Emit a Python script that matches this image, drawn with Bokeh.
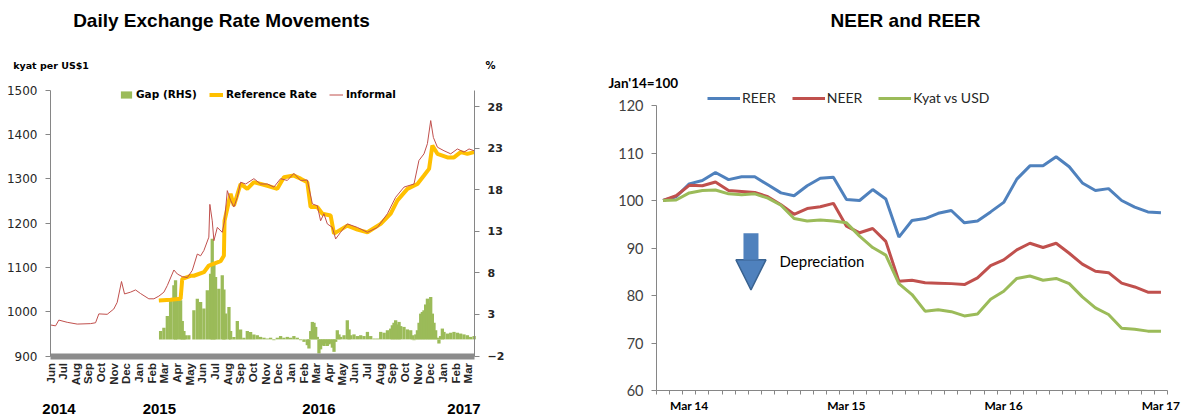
import math
import pandas as pd
from bokeh.plotting import figure
from bokeh.models import (Range1d, LinearAxis, FixedTicker, Legend, LegendItem,
                          Label, Arrow, NormalHead)
from bokeh.layouts import row
from bokeh.embed import file_html
from bokeh.resources import INLINE

# ---------------- Left chart data (x = months since Jun 2014) ----------------
month_labels = ["Jun", "Jul", "Aug", "Sep", "Oct", "Nov", "Dec", "Jan", "Feb", "Mar", "Apr", "May",
                "Jun", "Jul", "Aug", "Sep", "Oct", "Nov", "Dec", "Jan", "Feb", "Mar", "Apr", "May",
                "Jun", "Jul", "Aug", "Sep", "Oct", "Nov", "Dec", "Jan", "Feb", "Mar"]
year_labels = ["2014", "2015", "2016", "2017"]
year_pos = [0.67, 8.6, 21.2, 32.67]

informal_t = [0.0, 0.4, 0.66, 1.32, 2.11, 3.16, 3.56, 3.82, 4.48, 5.0, 5.27, 5.61, 5.85, 6.32, 6.72,
              7.11, 7.77, 8.17, 8.56, 8.96, 9.23, 9.75, 10.02, 10.41, 10.81, 11.2, 11.6, 11.86, 12.12,
              12.51, 12.59, 12.78, 12.91, 13.18, 13.57, 13.75, 13.97, 14.23, 14.49, 14.76, 15.02,
              15.42, 16.07, 16.6, 17.13, 17.65, 18.18, 18.71, 19.23, 19.76, 20.29, 20.69, 21.08,
              21.34, 21.6, 21.87, 22.27, 22.53, 22.92, 23.45, 24.25, 25.04, 25.83, 26.62, 27.27,
              27.93, 28.72, 29.11, 29.51, 29.78, 30.04, 30.25, 30.57, 31.09, 31.62, 32.15, 32.67,
              33.07, 33.47]
informal_v = [970, 968, 981, 976, 972, 973, 975, 995, 994, 1006, 1021, 1068, 1040, 1044, 1049,
              1041, 1029, 1029, 1035, 1044, 1059, 1094, 1085, 1079, 1077, 1093, 1130, 1126, 1138,
              1168, 1242, 1205, 1160, 1190, 1179, 1205, 1273, 1251, 1236, 1258, 1292,
              1288, 1300, 1288, 1288, 1281, 1300, 1296, 1312, 1296, 1297, 1243, 1239,
              1205, 1221, 1198, 1190, 1164, 1179, 1198, 1190, 1179, 1190, 1221, 1258,
              1281, 1288, 1341, 1356, 1379, 1431, 1393, 1371, 1363, 1356, 1367, 1360,
              1367, 1363]

ref_t = [8.56, 9.49, 10.28, 10.41, 11.07, 11.33, 12.12, 12.51, 13.44, 13.7, 13.75, 14.23, 14.49,
         15.02, 15.55, 16.07, 17.13, 17.92, 18.44, 19.23, 19.76, 20.29, 20.55, 21.08, 21.48,
         22.13, 22.4, 23.45, 24.25, 25.04, 26.09, 26.88, 27.41, 28.2, 28.99, 29.51, 29.91,
         30.17, 30.57, 31.36, 31.88, 32.41, 32.94, 33.47]
ref_v = [1025, 1027, 1029, 1074, 1081, 1081, 1089, 1104, 1114, 1126, 1205, 1266, 1239,
         1288, 1277, 1292, 1284, 1277, 1303, 1307, 1300, 1292, 1236, 1236, 1221,
         1217, 1176, 1194, 1185, 1179, 1198, 1221, 1251, 1277, 1288, 1307, 1322,
         1375, 1356, 1348, 1348, 1360, 1356, 1360]

gap_t = [8.7, 8.96, 9.23, 9.49, 9.75, 9.88, 10.02, 10.28, 10.41, 10.54, 10.67, 10.93, 11.33, 11.6,
         11.86, 12.12, 12.39, 12.65, 12.78, 12.91, 13.04, 13.3, 13.57, 13.7, 13.83, 14.1, 14.23,
         14.49, 14.76, 15.02, 15.28, 15.55, 15.81, 16.07, 16.34, 16.6, 16.87, 17.13, 17.39, 17.65,
         17.92, 18.18, 18.44, 18.71, 18.97, 19.23, 19.5, 19.76, 20.03, 20.29, 20.42, 20.56, 20.69,
         20.82, 20.95, 21.08, 21.21, 21.34, 21.48, 21.61, 21.74, 21.87, 22.0, 22.13, 22.27, 22.4,
         22.53, 22.66, 22.79, 22.92, 23.19, 23.45, 23.59, 23.72, 23.98, 24.25, 24.51, 24.77,
         25.04, 25.3, 25.57, 25.83, 26.09, 26.36, 26.62, 26.88, 27.01, 27.14, 27.27, 27.41, 27.54,
         27.67, 27.93, 28.2, 28.46, 28.59, 28.72, 28.86, 28.99, 29.12, 29.25, 29.38, 29.51, 29.64,
         29.78, 29.91, 30.04, 30.17, 30.3, 30.43, 30.56, 30.69, 30.82, 30.96, 31.09, 31.36, 31.62,
         31.88, 32.15, 32.41, 32.67, 32.94, 33.2, 33.47]
gap_v = [1.0, 1.4, 2.8, 4.7, 6.5, 7.1, 4.9, 4.7, 2.2, 1.0, 0.5, 0.5, 3.5, 4.9,
         4.5, 3.7, 5.9, 7.9, 12.1, 9.0, 7.5, 6.1, 7.7, 6.0, 3.1, 3.9, 1.0,
         0.3, 2.2, 1.2, 0.2, 1.0, 0.9, 0.6, 0.5, 0.3, 0.2, 0.1, 0.2, -0.1,
         0.2, 0.4, 0.2, 0.3, 0.2, 0.4, 0.2, -0.1, -0.3, -0.7, -1.1, 1.0, 2.1,
         2.0, 1.5, 0.3, -1.7, -1.2, -0.7, -0.8, -0.5, -0.8, -0.6, -0.5, -1.0, -1.5,
         -0.3, 1.1, 0.6, 0.3, 0.5, 2.3, 1.2, 0.5, 0.6, 0.4, 0.5, 0.4,
         0.9, 0.4, 0.1, 0.1, 0.9, 0.8, 1.1, 1.3, 1.7, 2.0, 2.3, 1.8, 2.1,
         1.6, 1.5, 1.2, 1.1, 0.5, -0.1, 0.6, 1.1, 2.0, 3.1, 3.3, 3.5, 4.2,
         4.9, 4.4, 5.1, 3.1, 2.0, 1.1, 0.2, -0.5, 0.4, 1.3, 0.9, 0.7, 0.8,
         0.9, 0.8, 0.7, 0.6, 0.5, 0.3, 0.4]

left_ticks = [900, 1000, 1100, 1200, 1300, 1400, 1500]
gap_ticks = [-2, 3, 8, 13, 18, 23, 28]

# ---------------- Right chart data (monthly, Jan 2014 = 100) ----------------
months = list(pd.date_range("2014-01-01", "2017-03-01", freq="MS").strftime("%b %y"))
reer = [100.0, 100.8, 103.5, 104.2, 105.9, 104.4, 105.0, 105.0, 103.3, 101.6,
        101.0, 103.1, 104.7, 104.9, 100.2, 100.0, 102.3, 100.3, 92.3, 95.8,
        96.2, 97.3, 97.9, 95.3, 95.7, 97.6, 99.6, 104.5, 107.3, 107.3,
        109.2, 107.1, 103.7, 102.1, 102.5, 100.0, 98.6, 97.6, 97.4]
neer = [100.0, 101.0, 103.2, 103.1, 103.9, 102.1, 101.9, 101.7, 100.8, 99.1,
        97.1, 98.3, 98.7, 99.4, 94.6, 93.2, 94.1, 91.4, 83.0, 83.2,
        82.7, 82.6, 82.5, 82.3, 83.7, 86.3, 87.5, 89.6, 91.0, 90.1,
        91.0, 88.9, 86.6, 85.1, 84.8, 82.6, 81.8, 80.7, 80.7]
kyat_usd = [100.0, 100.1, 101.6, 102.1, 102.2, 101.4, 101.2, 101.4, 100.5, 99.0,
            96.2, 95.7, 95.9, 95.7, 95.3, 92.5, 90.1, 88.5, 82.5, 80.2,
            76.7, 77.0, 76.6, 75.7, 76.1, 79.2, 80.9, 83.6, 84.1, 83.2,
            83.6, 82.5, 79.7, 77.4, 76.0, 73.1, 72.9, 72.5, 72.5]
right_ticks = [60, 70, 80, 90, 100, 110, 120]

AX = "#868686"
TXT = "#262626"

# ---------------- layout helpers (pixel placement of the plot areas) ----------------
def ranges(width, height, px0, px1, x0, x1, py_top, py_bot, y_top, y_bot):
    xpp = (x1 - x0) / (px1 - px0)
    ypp = (y_top - y_bot) / (py_bot - py_top)
    xr = (x0 - px0 * xpp, x1 + (width - px1) * xpp)
    yr = (y_bot - (height - py_bot) * ypp, y_top + py_top * ypp)
    return xr, yr, xpp, ypp

# ================= Left chart =================
W1, H1 = 560, 416
X1_0, X1_1 = 0, 33.5
(xr1, yr1, xpp1, ypp1) = ranges(W1, H1, 50, 474, X1_0, X1_1, 89.5, 355.5, 1500, 900)
(_, gr1, _, _) = ranges(W1, H1, 50, 474, X1_0, X1_1, 89.5, 355.5, 30, -2)

def px1(x, y):
    return xr1[0] + x * xpp1, yr1[1] - y * ypp1

p1 = figure(width=W1, height=H1, x_range=Range1d(*xr1), y_range=Range1d(*yr1),
            output_backend="svg", toolbar_location=None, min_border=0)
p1.extra_y_ranges = {"gap": Range1d(*gr1)}
p1.outline_line_color = None
p1.grid.visible = False

bars = p1.vbar(x=gap_t, top=gap_v, bottom=0, width=0.26, y_range_name="gap",
               fill_color="#9BBB59", line_color=None)
ref = p1.line(ref_t, ref_v, line_color="#FFC000", line_width=4)
inf = p1.line(informal_t, informal_v, line_color="#C0504D", line_width=1)

ya = p1.yaxis[0]
ya.fixed_location = X1_0
ya.bounds = (900, 1500)
ya.ticker = FixedTicker(ticks=left_ticks)
ya.axis_line_color = AX
ya.major_tick_line_color = AX
ya.major_tick_out = 5
ya.major_tick_in = 0
ya.minor_tick_line_color = None
ya.major_label_standoff = 8
ya.major_label_text_font = "DejaVu Sans"
ya.major_label_text_font_size = "12px"
ya.major_label_text_color = TXT

xa = p1.xaxis[0]
xa.fixed_location = 900
xa.bounds = (X1_0, X1_1)
xa.ticker = FixedTicker(ticks=list(range(len(month_labels))))
xa.major_label_overrides = {i: m for i, m in enumerate(month_labels)}
xa.major_label_orientation = math.pi / 2
xa.axis_line_color = "#8C8C8C"
xa.axis_line_width = 6
xa.major_tick_line_color = None
xa.major_tick_out = 0
xa.major_tick_in = 0
xa.minor_tick_line_color = None
xa.major_label_standoff = 7
xa.major_label_text_font = "Liberation Sans"
xa.major_label_text_font_style = "bold"
xa.major_label_text_font_size = "11.5px"
xa.major_label_text_color = TXT

ra = LinearAxis(y_range_name="gap", ticker=FixedTicker(ticks=gap_ticks))
ra.fixed_location = X1_1
ra.bounds = (-2, 30)
ra.axis_line_color = AX
ra.major_tick_line_color = AX
ra.major_tick_out = 5
ra.major_tick_in = 0
ra.minor_tick_line_color = None
ra.major_label_standoff = 8
ra.major_label_text_font = "DejaVu Sans"
ra.major_label_text_font_style = "bold"
ra.major_label_text_font_size = "11px"
ra.major_label_text_color = TXT
p1.add_layout(ra, "right")

leg1 = Legend(items=[LegendItem(label="Gap (RHS)", renderers=[bars]),
                     LegendItem(label="Reference Rate", renderers=[ref]),
                     LegendItem(label="Informal", renderers=[inf])],
              orientation="horizontal", location=(119, 316),
              background_fill_alpha=0, border_line_color=None, padding=0, margin=0,
              spacing=12, glyph_width=14, glyph_height=9, label_standoff=3, label_height=12,
              label_text_font="DejaVu Sans", label_text_font_style="bold",
              label_text_font_size="10.5px", label_text_color="black")
p1.add_layout(leg1)

tx, ty = px1(221, 20)
p1.add_layout(Label(x=tx, y=ty, text="Daily Exchange Rate Movements", text_align="center",
                    text_baseline="middle", text_font="Liberation Sans",
                    text_font_style="bold", text_font_size="19px", text_color="black"))
tx, ty = px1(12.7, 65)
p1.add_layout(Label(x=tx, y=ty, text="kyat per US$1", text_align="left",
                    text_baseline="middle", text_font="DejaVu Sans",
                    text_font_style="bold", text_font_size="9.5px", text_color="black"))
tx, ty = px1(490, 65)
p1.add_layout(Label(x=tx, y=ty, text="%", text_align="center",
                    text_baseline="middle", text_font="DejaVu Sans",
                    text_font_style="bold", text_font_size="10px", text_color="black"))
_, ty = px1(0, 408)
for yl, xp in zip(year_labels, year_pos):
    p1.add_layout(Label(x=xp, y=ty, text=yl, text_align="center", text_baseline="alphabetic",
                        text_font="Liberation Sans", text_font_style="bold",
                        text_font_size="15px", text_color="black"))

# ================= Right chart =================
W2, H2 = 624, 416
xs = list(range(len(months)))
X2_0, X2_1 = -0.5, len(months) - 0.5
(xr2, yr2, xpp2, ypp2) = ranges(W2, H2, 96, 607, X2_0, X2_1, 105, 390, 120, 60)

def px2(x, y):
    return xr2[0] + x * xpp2, yr2[1] - y * ypp2

p2 = figure(width=W2, height=H2, x_range=Range1d(*xr2), y_range=Range1d(*yr2),
            output_backend="svg", toolbar_location=None, min_border=0)
p2.outline_line_color = None
p2.grid.visible = False

r_reer = p2.line(xs, reer, line_color="#4F81BD", line_width=3)
r_neer = p2.line(xs, neer, line_color="#C0504D", line_width=3)
r_kyat = p2.line(xs, kyat_usd, line_color="#9BBB59", line_width=3)

ya2 = p2.yaxis[0]
ya2.fixed_location = X2_0
ya2.bounds = (60, 120)
ya2.ticker = FixedTicker(ticks=right_ticks)
ya2.axis_line_color = AX
ya2.major_tick_line_color = AX
ya2.major_tick_out = 5
ya2.major_tick_in = 0
ya2.minor_tick_line_color = None
ya2.major_label_standoff = 8
ya2.major_label_text_font = "Lato"
ya2.major_label_text_font_size = "14.5px"
ya2.major_label_text_color = "#404040"

mar_idx = [i for i, m in enumerate(months) if m.startswith("Mar")]
xa2 = p2.xaxis[0]
xa2.fixed_location = 60
xa2.bounds = (X2_0, X2_1)
xa2.ticker = FixedTicker(ticks=mar_idx, minor_ticks=[i - 0.5 for i in range(len(months) + 1)])
xa2.major_label_overrides = {i: months[i] for i in mar_idx}
xa2.axis_line_color = AX
xa2.major_tick_line_color = None
xa2.major_tick_out = 0
xa2.major_tick_in = 0
xa2.minor_tick_line_color = AX
xa2.minor_tick_out = 4
xa2.minor_tick_in = 0
xa2.major_label_standoff = 3
xa2.major_label_text_font = "Lato"
xa2.major_label_text_font_style = "bold"
xa2.major_label_text_font_size = "12px"
xa2.major_label_text_color = "black"

leg2 = Legend(items=[LegendItem(label="REER", renderers=[r_reer]),
                     LegendItem(label="NEER", renderers=[r_neer]),
                     LegendItem(label="Kyat vs USD", renderers=[r_kyat])],
              orientation="horizontal", location=(147, 310),
              background_fill_alpha=0, border_line_color=None, padding=0, margin=0,
              spacing=16, glyph_width=33, glyph_height=14, label_standoff=2, label_height=14,
              label_text_font="Lato", label_text_font_size="14px", label_text_color="#262626")
p2.add_layout(leg2)

tx, ty = px2(345, 20)
p2.add_layout(Label(x=tx, y=ty, text="NEER and REER", text_align="center",
                    text_baseline="middle", text_font="Liberation Sans",
                    text_font_style="bold", text_font_size="19px", text_color="black"))
tx, ty = px2(48, 82.7)
p2.add_layout(Label(x=tx, y=ty, text="Jan'14=100", text_align="left",
                    text_baseline="middle", text_font="Lato",
                    text_font_style="bold", text_font_size="13.5px", text_color="black"))
p2.add_layout(Arrow(x_start=6.71, y_start=93.1, x_end=6.71, y_end=81.2,
                    line_color="#4F81BD", line_width=15,
                    end=NormalHead(size=30, fill_color="#4F81BD", line_color="#3A6391",
                                   line_width=1.5)))
p2.add_layout(Label(x=8.89, y=87.3, text="Depreciation", text_align="left",
                    text_baseline="middle", text_font="Lato",
                    text_font_size="15px", text_color="black"))

layout = row(p1, p2)
open("out.html", "w").write(file_html(layout, INLINE))
